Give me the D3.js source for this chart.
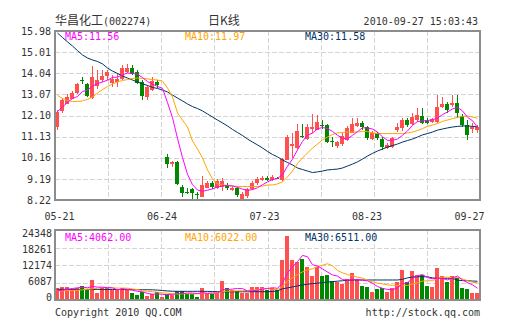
<!DOCTYPE html>
<html><head><meta charset="utf-8">
<script src="https://cdn.jsdelivr.net/npm/d3@7"></script>
<style>
html,body{margin:0;padding:0;background:#fff;}
svg{display:block;}
text{font-family:"DejaVu Sans Mono","Liberation Mono",monospace;font-size:10px;fill:#333;}
.cjk{font-family:"Noto Sans CJK SC","Noto Sans",sans-serif;font-size:12px;}
</style></head><body>
<svg id="c" width="505" height="330"></svg>
<script>
const stockName = "华昌化工";
const stockCode = "(002274)";
const chartTitle = "日K线";
const timestamp = "2010-09-27 15:03:43";
const copyrightText = "Copyright 2010 QQ.COM";
const siteText = "http://stock.qq.com";
const dateLabels = ["05-21","06-24","07-23","08-23","09-27"];
const priceTicks = [15.98,15.01,14.04,13.07,12.10,11.13,10.16,9.19,8.22];
const volumeTicks = [24348,18261,12174,6087,0];
const priceMaLabels = ["MA5:11.56","MA10:11.97","MA30:11.58"];
const volumeMaLabels = ["MA5:4062.00","MA10:6022.00","MA30:6511.00"];

const openP = [11.59,12.30,12.66,12.89,13.12,13.71,13.55,12.89,13.45,13.73,
13.88,13.58,13.64,13.78,14.11,14.30,14.11,13.62,12.96,13.27,
13.65,null,10.18,9.87,9.95,8.83,8.61,8.71,8.50,8.34,
8.79,8.99,8.79,8.83,8.91,8.68,8.76,8.27,8.37,8.72,
8.99,9.11,9.25,9.14,9.23,9.14,10.09,10.70,10.59,11.18,
11.01,11.47,11.47,11.67,11.66,10.91,10.70,10.80,10.98,11.31,
11.62,11.74,11.56,11.05,11.29,11.02,10.59,10.64,11.43,11.51,
11.89,11.74,11.89,12.10,11.90,11.80,11.82,12.50,12.63,12.58,
12.66,12.08,11.66,11.45,11.40];
const closeP = [12.28,12.81,12.96,13.15,13.55,13.70,13.01,13.85,13.73,13.91,
14.08,13.78,13.78,14.30,14.30,14.01,13.61,12.96,13.40,13.70,
13.50,null,9.87,9.96,8.94,8.57,8.60,8.53,8.49,8.91,
9.02,8.79,9.09,9.11,8.76,8.79,8.42,8.50,8.71,8.99,
9.17,9.22,9.14,9.29,9.22,10.09,11.13,10.79,11.39,11.13,
11.56,11.56,11.82,11.66,10.90,10.90,10.88,11.18,11.51,11.71,
11.77,11.54,11.05,11.31,11.05,10.67,10.74,11.05,11.59,11.89,
11.66,12.05,12.12,11.80,11.78,11.92,12.50,12.63,12.35,12.69,
12.20,11.66,11.20,11.55,11.56];
const highP = [12.35,12.90,13.07,13.23,13.59,13.88,13.59,14.39,14.19,14.19,
14.19,13.96,14.05,14.42,14.46,14.42,14.19,13.73,13.50,13.87,
13.73,null,10.33,10.02,10.00,8.91,8.76,8.79,8.60,9.34,
9.09,9.09,9.20,9.25,9.00,8.86,8.83,8.60,8.79,9.09,
9.27,9.30,9.30,9.36,9.29,10.14,11.19,11.28,11.71,11.71,
11.71,12.17,12.12,11.89,11.71,11.13,10.95,11.28,11.62,11.99,
11.99,11.85,11.62,11.40,11.36,11.11,10.82,11.13,11.74,11.97,
11.97,12.20,12.44,12.44,11.99,12.00,13.04,12.96,12.73,13.04,
13.04,12.15,11.89,11.74,11.66];
const lowP = [11.43,12.22,12.63,12.86,13.09,13.53,12.95,12.86,13.30,13.64,
13.73,13.41,13.41,13.73,14.05,13.96,13.55,12.81,12.81,13.22,
13.36,null,9.68,9.72,8.89,8.37,8.50,8.22,8.22,8.34,
8.76,8.72,8.72,8.63,8.67,8.65,8.37,8.22,8.33,8.67,
8.93,9.07,9.09,9.09,9.18,9.09,10.06,10.14,10.55,11.05,
10.98,11.28,11.43,11.50,10.86,10.65,10.62,10.70,10.93,11.28,
11.59,11.45,10.98,10.98,10.98,10.52,10.55,10.59,11.36,11.39,
11.59,11.66,11.80,11.70,11.70,11.74,11.74,12.43,12.20,12.51,
11.97,11.59,10.98,11.28,11.28];

const ma5 = [12.28,12.49,12.70,12.88,12.97,13.20,13.27,13.45,13.57,13.64,
13.72,13.85,13.86,13.97,14.05,14.03,14.00,13.84,13.66,13.54,
13.43,13.35,12.69,12.00,11.05,10.17,9.40,8.92,8.68,8.62,
8.67,8.73,8.82,8.87,8.88,8.87,8.80,8.72,8.66,8.70,
8.78,8.92,9.05,9.16,9.21,9.39,9.77,10.10,10.52,10.91,
11.20,11.29,11.49,11.55,11.50,11.37,11.19,11.06,11.03,11.19,
11.36,11.54,11.52,11.48,11.34,11.12,10.96,10.96,11.02,11.19,
11.39,11.65,11.82,11.85,11.87,11.90,11.99,12.14,12.26,12.40,
12.47,12.31,12.02,11.86,11.56];
const ma10 = [13.02,12.88,12.79,12.74,12.74,12.77,12.84,12.95,13.13,13.29,
13.43,13.55,13.64,13.71,13.75,13.80,13.82,13.80,13.78,13.75,
13.73,13.68,13.36,12.95,12.22,11.89,11.57,10.93,10.56,10.15,
9.60,9.19,8.96,8.91,8.89,8.86,8.84,8.84,8.84,8.84,
8.84,8.86,8.91,8.91,8.96,9.05,9.28,9.55,9.90,10.15,
10.38,10.61,10.79,10.98,11.11,11.23,11.30,11.32,11.34,11.34,
11.34,11.37,11.37,11.30,11.27,11.27,11.27,11.27,11.27,11.27,
11.30,11.34,11.41,11.50,11.60,11.66,11.73,11.83,11.89,11.96,
12.01,12.06,12.08,12.03,11.97];
const ma30 = [15.89,15.68,15.48,15.29,15.08,14.88,14.74,14.65,14.58,14.47,
14.28,14.14,14.03,13.91,13.82,13.73,13.64,13.55,13.48,13.39,
13.34,13.27,13.18,13.04,12.90,12.77,12.63,12.51,12.42,12.31,
12.17,12.03,11.89,11.76,11.62,11.46,11.32,11.18,11.02,10.88,
10.75,10.61,10.45,10.31,10.20,10.06,9.94,9.83,9.69,9.62,
9.55,9.48,9.51,9.55,9.60,9.62,9.64,9.69,9.78,9.87,
9.97,10.10,10.24,10.36,10.47,10.56,10.65,10.72,10.79,10.88,
10.95,11.02,11.11,11.21,11.27,11.34,11.43,11.48,11.53,11.57,
11.60,11.62,11.62,11.60,11.58];

const volume = [4070,4630,4630,3830,4070,4970,3830,6960,2550,4070,
4070,3480,3480,4070,3480,2430,1620,2670,1280,2090,
2780,1040,2200,1850,3020,3020,2090,2090,1040,4170,
2430,2200,2430,6720,4170,3590,3020,2320,2550,4630,
4630,4630,3480,4070,3480,13910,22260,13910,13330,14150,
11590,8350,11590,8350,8700,6610,6380,5560,7190,9510,
7190,4870,4630,2900,3830,4060,2900,4060,6380,10430,
6380,10200,8700,8700,4870,4500,11200,8200,6200,8500,
7530,4300,3700,2400,2300];
const volMa5 = [3200,3400,3700,4000,4246,4426,4266,4732,4476,4476,
4296,4226,3530,3834,3716,3388,3016,2854,2296,2018,
2088,1972,1878,1992,2178,2226,2436,2414,2252,2482,
2364,2386,2454,3590,3590,3822,3986,3964,3130,3222,
3430,3752,3984,4288,4058,5914,9440,11526,13378,15512,
15048,12266,11802,10806,9716,8720,8326,7120,6888,7050,
7166,6864,6678,5820,4684,4058,3664,3550,4246,5566,
6030,7490,8418,8882,7770,7394,7594,7494,6994,7720,
8326,6946,6046,5286,4062];
const volMa10 = [3150,3200,3250,3300,3400,3550,3700,3900,4100,4361,
4361,4246,4131,4155,4096,3842,3621,3192,3065,2867,
2738,2494,2366,2144,2098,2157,2204,2146,2122,2330,
2295,2411,2434,2921,3036,3093,3186,3209,3360,3406,
3626,3869,3974,3709,3640,4672,6596,7755,8833,9785,
10481,10853,11664,12092,12614,11884,10296,9461,8847,8383,
7943,7595,6899,6354,5867,5612,5264,5114,5033,5125,
5044,5577,5984,6564,6668,6712,7542,7956,7938,7745,
7860,7270,6770,6140,6022];
const volMa30 = [3720,3720,3710,3710,3700,3700,3690,3690,3680,3680,
3670,3660,3650,3640,3620,3600,3580,3570,3560,3540,
3450,3300,3150,3050,3020,3020,3020,3020,3020,3020,
3000,2950,2900,2850,2850,2850,2850,2850,2850,2880,
2890,2890,2890,2950,3200,3900,4200,4550,4900,5200,
5500,5700,5850,6050,6250,6400,6550,6700,6850,6950,
6960,6960,6960,6960,6960,6960,6960,6960,6960,7200,
7700,8000,8100,8100,8050,7700,7550,7550,7550,7500,
6900,6750,6700,6600,6511];

const RED = "#ff5050", GREEN = "#008800";
const C_MA5 = "#ff00ff", C_MA10 = "#ffa500", C_MA30 = "#003366";
const L = 55, R = 480, PT = 31, PB = 200, VT = 230, VB = 300;

const svg = d3.select("#c");
const n = volume.length;
const x = d3.scaleBand().domain(d3.range(n)).range([L, R]);
const y = d3.scaleLinear().domain([d3.min(priceTicks), d3.max(priceTicks)]).range([PB, PT]);
const yv = d3.scaleLinear().domain([0, d3.max(volumeTicks)]).range([VB, VT]);
const yvLab = d3.scaleLinear().domain([0, d3.max(volumeTicks)]).range([VB - 3, VT + 3.3]);
const xd = d3.scalePoint().domain(dateLabels).range([59, 469]);
const cx = i => x(i) + 2.5;
const isUp = i => closeP[i] == null ? true : closeP[i] >= openP[i];

const vgrid = d3.range(1, 8).map(k => Math.round(L + k * (R - L) / 8) + 0.5);

function grid(top, bottom, hvals) {
  const g = svg.append("g").attr("stroke", "#d4d4d4").attr("stroke-dasharray", "5,2").attr("shape-rendering", "crispEdges");
  g.selectAll("line.v").data(vgrid).join("line").attr("x1", d => d).attr("x2", d => d).attr("y1", top).attr("y2", bottom);
  g.selectAll("line.h").data(hvals).join("line").attr("x1", L).attr("x2", R).attr("y1", d => Math.round(d) + 0.5).attr("y2", d => Math.round(d) + 0.5);
}
grid(PT, PB, priceTicks.slice(1, -1).map(y));
grid(VT, VB, volumeTicks.slice(1, -1).map(yv));

// candles
const idx = d3.range(n).filter(i => closeP[i] != null);
const cg = svg.append("g").attr("shape-rendering", "crispEdges");
cg.selectAll("line").data(idx).join("line")
  .attr("x1", cx).attr("x2", cx)
  .attr("y1", i => Math.round(y(highP[i]))).attr("y2", i => Math.round(y(lowP[i])))
  .attr("stroke", i => isUp(i) ? RED : GREEN);
cg.selectAll("rect").data(idx).join("rect")
  .attr("x", i => x(i)).attr("width", 4)
  .attr("y", i => Math.round(y(Math.max(openP[i], closeP[i]))))
  .attr("height", i => Math.max(1, Math.round(Math.abs(y(openP[i]) - y(closeP[i])))))
  .attr("fill", i => isUp(i) ? RED : GREEN);

// volume bars
svg.append("g").attr("shape-rendering", "crispEdges").selectAll("rect").data(d3.range(n)).join("rect")
  .attr("x", i => x(i)).attr("width", 4)
  .attr("y", i => Math.round(yv(volume[i]))).attr("height", i => VB - Math.round(yv(volume[i])))
  .attr("fill", i => isUp(i) ? RED : GREEN);

// MA lines
function maLine(arr, scale, color) {
  svg.append("path").datum(arr)
    .attr("d", d3.line().x((d, i) => cx(i)).y(d => scale(d)))
    .attr("fill", "none").attr("stroke", color).attr("stroke-width", 1);
}
maLine(ma30, y, C_MA30); maLine(ma10, y, C_MA10); maLine(ma5, y, C_MA5);
maLine(volMa30, yv, C_MA30); maLine(volMa10, yv, C_MA10); maLine(volMa5, yv, C_MA5);

// frames
svg.append("rect").attr("x", L).attr("y", PT).attr("width", R - L).attr("height", PB - PT)
  .attr("fill", "none").attr("stroke", "#8c8c8c").attr("stroke-width", 2);
svg.append("rect").attr("x", L).attr("y", VT).attr("width", R - L).attr("height", VB - VT)
  .attr("fill", "none").attr("stroke", "#8c8c8c").attr("stroke-width", 2);

// axes
function styleAxis(g) { g.select(".domain").remove(); g.selectAll("text").attr("fill", "#333").style("font-family", "'DejaVu Sans Mono',monospace").style("font-size", "10px"); }
svg.append("g").attr("transform", `translate(${L},0)`)
  .call(d3.axisLeft(y).tickValues(priceTicks).tickFormat(d3.format(".2f")).tickSize(0).tickPadding(4)).call(styleAxis);
svg.append("g").attr("transform", `translate(${L},0)`)
  .call(d3.axisLeft(yvLab).tickValues(volumeTicks).tickFormat(d3.format("d")).tickSize(0).tickPadding(3)).call(styleAxis);
svg.append("g").attr("transform", `translate(0,210)`)
  .call(d3.axisBottom(xd).tickSize(0).tickPadding(3)).call(styleAxis);

// header
const t = svg.append("text").attr("x", L).attr("y", 25);
t.append("tspan").attr("class", "cjk").style("font-size", "12px").text(stockName);
t.append("tspan").text(stockCode);
svg.append("text").attr("class", "cjk").attr("x", 208).attr("y", 25).text(chartTitle);
svg.append("text").attr("x", R - 2).attr("y", 25).attr("text-anchor", "end").text(timestamp);

const maColors = [C_MA5, C_MA10, C_MA30], maX = [65, 185, 305];
priceMaLabels.forEach((s, k) => svg.append("text").attr("x", maX[k]).attr("y", 40).attr("fill", maColors[k]).style("fill", maColors[k]).text(s));
volumeMaLabels.forEach((s, k) => svg.append("text").attr("x", maX[k]).attr("y", 240.5).style("fill", maColors[k]).text(s));

svg.append("text").attr("x", L).attr("y", 316).text(copyrightText);
svg.append("text").attr("x", R).attr("y", 316).attr("text-anchor", "end").text(siteText);
</script>
</body></html>
